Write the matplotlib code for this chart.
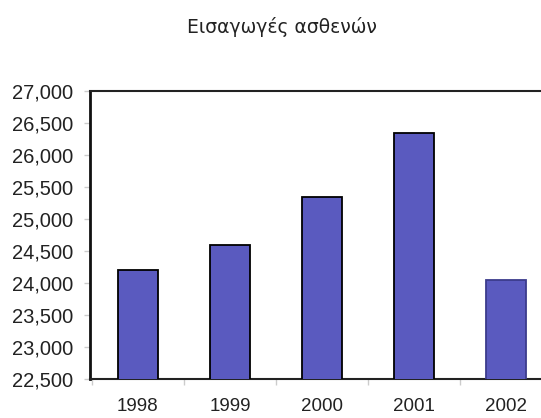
# Εισαγωγές ασθενών ανά έτος, ραβδόγραμμα
import numpy as np
import matplotlib
matplotlib.use('Agg')
import matplotlib.pyplot as plt
from matplotlib.ticker import FuncFormatter, MultipleLocator

years = ['1998', '1999', '2000', '2001', '2002']
admissions = [24200, 24600, 25350, 26350, 24050]
y_ticks = [22500, 23000, 23500, 24000, 24500, 25000, 25500, 26000, 26500, 27000]
title = 'Εισαγωγές ασθενών'

plt.rcParams['font.family'] = ['Liberation Sans', 'DejaVu Sans']

fig = plt.figure(figsize=(5.41, 4.18), dpi=100)
ax = fig.add_axes([0.1664, 0.0933, 0.8336, 0.689])

x = np.arange(len(years))
edges = ['black'] * (len(years) - 1) + ['#3c3c8c']
ax.bar(x, admissions, width=0.43, bottom=0, color='#5a5abf',
       edgecolor=edges, linewidth=1.3, zorder=3)

ax.set_ylim(22500, 27000)
ax.set_xlim(-0.52, 4.38)
ax.set_yticks(y_ticks)
ax.yaxis.set_major_formatter(FuncFormatter(lambda v, p: f'{int(v):,}'))
ax.set_xticks(x)
ax.set_xticklabels(years)
ax.xaxis.set_minor_locator(MultipleLocator(1, offset=0.5))

# ticks και πάχος γραμμών σε points
ax.tick_params(axis='y', length=4, width=1, color='#cccccc', pad=8,
               labelsize=14.5, labelcolor='#222222')
ax.tick_params(axis='x', which='major', length=0, pad=14,
               labelsize=13.5, labelcolor='#222222')
ax.tick_params(axis='x', which='minor', length=4, width=1, color='#cccccc')

ax.spines['right'].set_visible(False)
ax.spines['left'].set_linewidth(2)
ax.spines['left'].set_color('#111111')
ax.spines['top'].set_linewidth(1.5)
ax.spines['top'].set_color('#222222')
ax.spines['bottom'].set_linewidth(1.5)
ax.spines['bottom'].set_color('#222222')

fig.text(0.521, 0.935, title, ha='center', va='center', fontsize=13.5,
         color='#222222', family='DejaVu Sans')

fig.savefig('out.png', dpi=100)
